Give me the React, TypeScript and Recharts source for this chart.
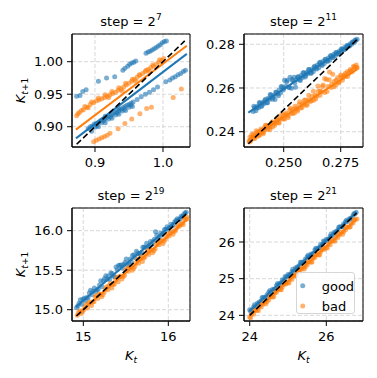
import React from 'react';
import { ScatterChart, Scatter, XAxis, YAxis, CartesianGrid, ReferenceArea, Legend } from 'recharts';

const W = 377;
const H = 378;
const BLUE = '#1f77b4';
const ORANGE = '#ff7f0e';
const FONT = '"DejaVu Sans", sans-serif';

type Pt = [number, number];

// ---------- panel 1: step = 2^7 ----------
const good1: Pt[] = [
  [0.873, 0.947], [0.878, 0.948], [0.882, 0.954], [0.887, 0.957], [0.905, 0.970], [0.917, 0.975],
  [0.929, 0.977], [0.941, 0.987], [0.944, 0.990], [0.948, 0.993], [0.951, 0.996], [0.954, 0.998],
  [0.957, 0.999], [0.960, 1.001], [0.975, 1.013], [0.978, 1.015], [0.981, 1.016], [0.984, 1.018],
  [0.987, 1.020], [0.990, 1.022], [0.993, 1.024], [0.996, 1.026], [0.999, 1.029], [1.002, 1.031],
  [1.005, 1.032],
  [0.890, 0.897], [0.893, 0.900], [0.896, 0.901], [0.899, 0.904], [0.902, 0.905], [0.905, 0.907],
  [0.908, 0.909], [0.911, 0.911], [0.914, 0.912], [0.917, 0.914], [0.920, 0.916], [0.923, 0.918],
  [0.926, 0.920], [0.929, 0.922], [0.932, 0.923], [0.935, 0.925], [0.938, 0.927], [0.941, 0.929],
  [0.944, 0.931], [0.947, 0.933], [0.950, 0.934], [0.953, 0.936], [0.956, 0.938], [0.962, 0.942],
  [0.968, 0.946], [0.974, 0.950], [0.980, 0.953], [0.986, 0.957], [0.992, 0.961], [1.004, 0.969],
  [1.010, 0.972], [1.014, 0.975], [1.018, 0.977], [1.022, 0.980], [1.026, 0.982], [1.030, 0.985],
  [1.033, 0.987],
  [0.900, 0.899], [0.910, 0.906], [0.920, 0.912], [0.930, 0.918], [0.940, 0.924], [0.950, 0.930],
  [0.915, 0.916], [0.935, 0.928],
  [0.895, 0.893], [0.905, 0.900], [0.915, 0.906], [0.925, 0.913], [0.935, 0.919], [0.945, 0.925],
  [0.955, 0.931], [0.903, 0.902], [0.913, 0.909], [0.923, 0.915], [0.933, 0.921], [0.943, 0.927],
  [0.953, 0.933],
];
const bad1: Pt[] = [
  [0.873, 0.917], [0.875, 0.920], [0.877, 0.922], [0.880, 0.925], [0.883, 0.926], [0.888, 0.930],
  [0.893, 0.934], [0.898, 0.937], [0.902, 0.940], [0.906, 0.941], [0.910, 0.943], [0.914, 0.945],
  [0.918, 0.947], [0.922, 0.949], [0.926, 0.951], [0.930, 0.953], [0.934, 0.956], [0.938, 0.958],
  [0.942, 0.961], [0.946, 0.964], [0.950, 0.967], [0.954, 0.970], [0.958, 0.973], [0.962, 0.976],
  [0.966, 0.979], [0.970, 0.982], [0.974, 0.985], [0.978, 0.988], [0.982, 0.991], [0.986, 0.993],
  [0.990, 0.996], [0.994, 0.999], [0.998, 1.002], [1.001, 1.005],
  [0.885, 0.931], [0.895, 0.938], [0.905, 0.944], [0.915, 0.949], [0.925, 0.954], [0.935, 0.960],
  [0.945, 0.967], [0.955, 0.973], [0.965, 0.980], [0.975, 0.987], [0.985, 0.995], [0.995, 1.003],
  [0.890, 0.929], [0.920, 0.945], [0.940, 0.955], [0.960, 0.970], [0.980, 0.985],
  [0.898, 0.877], [0.902, 0.879], [0.906, 0.881], [0.910, 0.883], [0.914, 0.885], [0.918, 0.887],
  [0.922, 0.890], [0.934, 0.897], [0.944, 0.905], [0.954, 0.912], [0.966, 0.920], [0.976, 0.928],
  [0.983, 0.930], [1.015, 0.945], [1.027, 0.958],
];
const goodFit1: Pt[] = [[0.872, 0.882], [1.035, 1.012]];
const badFit1: Pt[] = [[0.872, 0.8955], [1.035, 1.0245]];
const diag1: Pt[] = [[0.873, 0.873], [1.032, 1.032]];

// ---------- panel 2: step = 2^11 ----------
const good2: Pt[] = [
  [0.2366, 0.2492], [0.2372, 0.2510], [0.2378, 0.2496], [0.2384, 0.2516], [0.2390, 0.2510], [0.2396, 0.2531],
  [0.2402, 0.2515], [0.2408, 0.2534], [0.2414, 0.2529], [0.2420, 0.2549], [0.2426, 0.2533], [0.2432, 0.2553],
  [0.2438, 0.2548], [0.2444, 0.2568], [0.2450, 0.2548], [0.2456, 0.2566], [0.2462, 0.2547], [0.2468, 0.2581],
  [0.2474, 0.2572], [0.2480, 0.2591], [0.2486, 0.2577], [0.2492, 0.2605], [0.2498, 0.2591], [0.2504, 0.2636],
  [0.2510, 0.2608], [0.2516, 0.2636], [0.2522, 0.2603], [0.2528, 0.2649], [0.2534, 0.2599], [0.2540, 0.2633],
  [0.2546, 0.2649], [0.2552, 0.2603], [0.2558, 0.2640], [0.2564, 0.2652], [0.2570, 0.2638], [0.2576, 0.2657],
  [0.2582, 0.2648], [0.2588, 0.2670], [0.2594, 0.2650], [0.2600, 0.2671], [0.2606, 0.2666], [0.2612, 0.2685],
  [0.2618, 0.2669], [0.2624, 0.2685], [0.2630, 0.2675], [0.2636, 0.2700], [0.2642, 0.2692], [0.2648, 0.2705],
  [0.2654, 0.2693], [0.2660, 0.2718], [0.2666, 0.2707], [0.2672, 0.2721], [0.2678, 0.2712], [0.2684, 0.2732],
  [0.2690, 0.2724], [0.2696, 0.2737], [0.2702, 0.2728], [0.2708, 0.2748], [0.2714, 0.2740], [0.2720, 0.2754],
  [0.2726, 0.2747], [0.2732, 0.2762], [0.2738, 0.2756], [0.2744, 0.2769], [0.2750, 0.2765], [0.2756, 0.2779],
  [0.2762, 0.2775], [0.2768, 0.2786], [0.2774, 0.2782], [0.2780, 0.2793], [0.2786, 0.2791], [0.2792, 0.2803],
  [0.2798, 0.2800], [0.2804, 0.2810], [0.2810, 0.2809], [0.2816, 0.2818], [0.2822, 0.2823],
  [0.2369, 0.2516], [0.2381, 0.2508], [0.2393, 0.2534], [0.2405, 0.2520], [0.2417, 0.2543], [0.2429, 0.2533],
  [0.2441, 0.2570], [0.2453, 0.2556], [0.2465, 0.2581], [0.2477, 0.2564], [0.2489, 0.2607], [0.2501, 0.2600],
  [0.2513, 0.2629], [0.2525, 0.2602], [0.2537, 0.2639], [0.2549, 0.2624], [0.2561, 0.2650], [0.2573, 0.2634],
  [0.2585, 0.2670], [0.2597, 0.2657], [0.2609, 0.2685], [0.2621, 0.2667], [0.2633, 0.2696], [0.2645, 0.2687],
  [0.2657, 0.2716], [0.2669, 0.2703], [0.2681, 0.2730], [0.2693, 0.2722], [0.2705, 0.2748], [0.2717, 0.2740],
  [0.2729, 0.2762], [0.2741, 0.2757], [0.2753, 0.2779], [0.2765, 0.2775], [0.2777, 0.2794], [0.2789, 0.2793],
  [0.2801, 0.2810], [0.2813, 0.2820],
];
const bad2: Pt[] = [
  [0.2348, 0.2358], [0.2352, 0.2375], [0.2356, 0.2359], [0.2360, 0.2376], [0.2364, 0.2372], [0.2368, 0.2390],
  [0.2372, 0.2368], [0.2376, 0.2385], [0.2380, 0.2378], [0.2384, 0.2398], [0.2388, 0.2387], [0.2392, 0.2400],
  [0.2396, 0.2386], [0.2400, 0.2412], [0.2404, 0.2397], [0.2408, 0.2408], [0.2412, 0.2398], [0.2416, 0.2419],
  [0.2420, 0.2411], [0.2425, 0.2430], [0.2430, 0.2410], [0.2435, 0.2428], [0.2440, 0.2420], [0.2446, 0.2440],
  [0.2452, 0.2423], [0.2458, 0.2442], [0.2464, 0.2439], [0.2470, 0.2462], [0.2477, 0.2442], [0.2484, 0.2462],
  [0.2491, 0.2458], [0.2498, 0.2478], [0.2505, 0.2458], [0.2512, 0.2479], [0.2519, 0.2473], [0.2526, 0.2499],
  [0.2533, 0.2485], [0.2540, 0.2502], [0.2547, 0.2486], [0.2554, 0.2506], [0.2561, 0.2502], [0.2568, 0.2524],
  [0.2575, 0.2509], [0.2582, 0.2528], [0.2589, 0.2525], [0.2596, 0.2545], [0.2603, 0.2526], [0.2610, 0.2546],
  [0.2617, 0.2539], [0.2624, 0.2561], [0.2631, 0.2544], [0.2638, 0.2567], [0.2645, 0.2562], [0.2652, 0.2585],
  [0.2659, 0.2567], [0.2666, 0.2583], [0.2673, 0.2614], [0.2680, 0.2579], [0.2687, 0.2639], [0.2694, 0.2607],
  [0.2701, 0.2673], [0.2708, 0.2602], [0.2715, 0.2663], [0.2722, 0.2630], [0.2729, 0.2614], [0.2736, 0.2647],
  [0.2743, 0.2628], [0.2750, 0.2652], [0.2757, 0.2635], [0.2764, 0.2658], [0.2771, 0.2654], [0.2778, 0.2674],
  [0.2785, 0.2666], [0.2792, 0.2685], [0.2799, 0.2680], [0.2806, 0.2700], [0.2812, 0.2694], [0.2818, 0.2705],
  [0.2822, 0.2693],
  [0.2350, 0.2353], [0.2360, 0.2387], [0.2370, 0.2373], [0.2380, 0.2404], [0.2390, 0.2380], [0.2400, 0.2405],
  [0.2410, 0.2391], [0.2420, 0.2429], [0.2430, 0.2424], [0.2440, 0.2410], [0.2450, 0.2445], [0.2460, 0.2430],
  [0.2470, 0.2452], [0.2480, 0.2440], [0.2490, 0.2478], [0.2500, 0.2459], [0.2510, 0.2486], [0.2520, 0.2465],
  [0.2530, 0.2507], [0.2540, 0.2483], [0.2550, 0.2516], [0.2560, 0.2494], [0.2570, 0.2537], [0.2580, 0.2511],
  [0.2590, 0.2544], [0.2600, 0.2520], [0.2610, 0.2567], [0.2620, 0.2540], [0.2630, 0.2585], [0.2640, 0.2550],
  [0.2650, 0.2609], [0.2660, 0.2586], [0.2670, 0.2607], [0.2680, 0.2644], [0.2690, 0.2584], [0.2700, 0.2638],
  [0.2710, 0.2618], [0.2720, 0.2606], [0.2730, 0.2635], [0.2740, 0.2624], [0.2750, 0.2659], [0.2760, 0.2648],
  [0.2770, 0.2666], [0.2780, 0.2653], [0.2790, 0.2678], [0.2800, 0.2674], [0.2810, 0.2696], [0.2820, 0.2694],
];
const goodFit2: Pt[] = [[0.2345, 0.2487], [0.2823, 0.2820]];
const badFit2: Pt[] = [[0.2345, 0.2362], [0.2823, 0.2686]];
const diag2: Pt[] = [[0.2345, 0.2345], [0.2823, 0.2823]];

// ---------- panel 3: step = 2^19 ----------
const good3: Pt[] = [
  [14.92, 15.024], [14.95, 15.081], [14.98, 15.069], [15.01, 15.146], [15.04, 15.154], [15.07, 15.211],
  [15.10, 15.189], [15.13, 15.276], [15.16, 15.254], [15.19, 15.311], [15.22, 15.289], [15.25, 15.396],
  [15.28, 15.384], [15.31, 15.382], [15.34, 15.459], [15.37, 15.417], [15.40, 15.504], [15.43, 15.562],
  [15.46, 15.529], [15.49, 15.597], [15.52, 15.564], [15.55, 15.642], [15.58, 15.689], [15.61, 15.657],
  [15.64, 15.714], [15.67, 15.702], [15.70, 15.790], [15.73, 15.787], [15.76, 15.795], [15.79, 15.862],
  [15.82, 15.860], [15.85, 15.987], [15.88, 15.895], [15.91, 15.972], [15.94, 15.970], [15.97, 16.017],
  [16.00, 16.015], [16.03, 16.082], [16.06, 16.080], [16.09, 16.128], [16.12, 16.135], [16.15, 16.183],
  [16.18, 16.200], [16.21, 16.233],
  [14.935, 15.047], [14.995, 15.132], [15.055, 15.147], [15.115, 15.233], [15.175, 15.258], [15.235, 15.363],
  [15.295, 15.428], [15.355, 15.423], [15.415, 15.558], [15.475, 15.573], [15.535, 15.588], [15.595, 15.693],
  [15.655, 15.708], [15.715, 15.793], [15.775, 15.808], [15.835, 15.893], [15.895, 15.919], [15.955, 16.014],
  [16.015, 16.039], [16.075, 16.114], [16.135, 16.149], [16.195, 16.224],
  [14.965, 15.125], [15.025, 15.110], [15.085, 15.245], [15.145, 15.230], [15.205, 15.365], [15.265, 15.430],
  [15.325, 15.465], [15.385, 15.540], [15.445, 15.565], [15.505, 15.641], [15.565, 15.606], [15.625, 15.741],
  [15.685, 15.726], [15.745, 15.841], [15.805, 15.826], [15.865, 15.941], [15.925, 15.946], [15.985, 16.051],
  [16.045, 16.056], [16.105, 16.151], [16.165, 16.176],
];
const bad3: Pt[] = [
  [14.93, 14.929], [14.96, 14.987], [14.99, 14.975], [15.02, 15.033], [15.05, 15.020], [15.08, 15.098],
  [15.11, 15.096], [15.14, 15.164], [15.17, 15.142], [15.20, 15.200], [15.23, 15.188], [15.26, 15.266],
  [15.29, 15.254], [15.32, 15.332], [15.35, 15.319], [15.38, 15.377], [15.41, 15.355], [15.44, 15.423],
  [15.47, 15.421], [15.50, 15.499], [15.53, 15.487], [15.56, 15.545], [15.59, 15.523], [15.62, 15.591],
  [15.65, 15.588], [15.68, 15.666], [15.71, 15.654], [15.74, 15.712], [15.77, 15.700], [15.80, 15.758],
  [15.83, 15.746], [15.86, 15.824], [15.89, 15.822], [15.92, 15.880], [15.95, 15.867], [15.98, 15.925],
  [16.01, 15.933], [16.04, 15.991], [16.07, 15.989], [16.10, 16.037], [16.13, 16.055], [16.16, 16.093],
  [16.19, 16.141], [16.22, 16.149],
  [14.945, 14.963], [15.005, 14.999], [15.065, 15.084], [15.125, 15.100], [15.185, 15.196], [15.245, 15.222],
  [15.305, 15.308], [15.365, 15.323], [15.425, 15.419], [15.485, 15.435], [15.545, 15.531], [15.605, 15.547],
  [15.665, 15.642], [15.725, 15.668], [15.785, 15.754], [15.845, 15.770], [15.905, 15.866], [15.965, 15.891],
  [16.025, 15.967], [16.085, 16.003], [16.145, 16.079], [16.205, 16.145],
  [14.975, 14.951], [15.035, 15.067], [15.095, 15.052], [15.155, 15.178], [15.215, 15.164], [15.275, 15.290],
  [15.335, 15.276], [15.395, 15.411], [15.455, 15.387], [15.515, 15.523], [15.575, 15.499], [15.635, 15.635],
  [15.695, 15.610], [15.755, 15.746], [15.815, 15.722], [15.875, 15.848], [15.935, 15.834], [15.995, 15.959],
  [16.055, 15.955], [16.115, 16.061], [16.175, 16.077], [16.215, 16.174],
];
const goodFit3: Pt[] = [[14.914, 15.038], [16.216, 16.233]];
const badFit3: Pt[] = [[14.914, 14.924], [16.216, 16.135]];
const diag3: Pt[] = [[14.92, 14.92], [16.21, 16.21]];

// ---------- panel 4: step = 2^21 ----------
const good4: Pt[] = [
  [24.00, 24.149], [24.05, 24.148], [24.10, 24.226], [24.15, 24.234], [24.20, 24.332], [24.25, 24.361],
  [24.30, 24.399], [24.35, 24.487], [24.40, 24.485], [24.45, 24.563], [24.50, 24.631], [24.55, 24.630],
  [24.60, 24.708], [24.65, 24.716], [24.70, 24.814], [24.75, 24.843], [24.80, 24.881], [24.85, 24.969],
  [24.90, 24.967], [24.95, 25.045], [25.00, 25.114], [25.05, 25.112], [25.10, 25.190], [25.15, 25.198],
  [25.20, 25.297], [25.25, 25.325], [25.30, 25.363], [25.35, 25.451], [25.40, 25.449], [25.45, 25.528],
  [25.50, 25.596], [25.55, 25.594], [25.60, 25.672], [25.65, 25.681], [25.70, 25.779], [25.75, 25.807],
  [25.80, 25.845], [25.85, 25.933], [25.90, 25.932], [25.95, 26.010], [26.00, 26.078], [26.05, 26.076],
  [26.10, 26.155], [26.15, 26.163], [26.20, 26.261], [26.25, 26.289], [26.30, 26.327], [26.35, 26.416],
  [26.40, 26.414], [26.45, 26.492], [26.50, 26.550], [26.55, 26.559], [26.60, 26.637], [26.65, 26.655],
  [26.70, 26.733], [26.75, 26.771], [26.78, 26.810],
  [24.025, 24.103], [24.125, 24.290], [24.225, 24.296], [24.325, 24.483], [24.425, 24.489], [24.525, 24.676],
  [24.625, 24.682], [24.725, 24.869], [24.825, 24.875], [24.925, 25.061], [25.025, 25.068], [25.125, 25.254],
  [25.225, 25.261], [25.325, 25.447], [25.425, 25.454], [25.525, 25.640], [25.625, 25.646], [25.725, 25.833],
  [25.825, 25.839], [25.925, 26.026], [26.025, 26.032], [26.125, 26.219], [26.225, 26.225], [26.325, 26.401],
  [26.425, 26.418], [26.525, 26.594], [26.625, 26.621], [26.725, 26.777],
];
const bad4: Pt[] = [
  [24.00, 23.952], [24.05, 24.040], [24.10, 24.027], [24.15, 24.125], [24.20, 24.152], [24.25, 24.240],
  [24.30, 24.227], [24.35, 24.305], [24.40, 24.372], [24.45, 24.379], [24.50, 24.427], [24.55, 24.514],
  [24.60, 24.502], [24.65, 24.599], [24.70, 24.627], [24.75, 24.714], [24.80, 24.702], [24.85, 24.779],
  [24.90, 24.847], [24.95, 24.854], [25.00, 24.901], [25.05, 24.989], [25.10, 24.976], [25.15, 25.074],
  [25.20, 25.101], [25.25, 25.189], [25.30, 25.176], [25.35, 25.254], [25.40, 25.321], [25.45, 25.328],
  [25.50, 25.376], [25.55, 25.463], [25.60, 25.451], [25.65, 25.548], [25.70, 25.576], [25.75, 25.663],
  [25.80, 25.651], [25.85, 25.728], [25.90, 25.796], [25.95, 25.803], [26.00, 25.850], [26.05, 25.938],
  [26.10, 25.925], [26.15, 26.023], [26.20, 26.050], [26.25, 26.138], [26.30, 26.125], [26.35, 26.203],
  [26.40, 26.270], [26.45, 26.277], [26.50, 26.325], [26.55, 26.412], [26.60, 26.400], [26.65, 26.497],
  [26.70, 26.525], [26.75, 26.612], [26.80, 26.630],
  [24.025, 23.936], [24.125, 24.131], [24.225, 24.126], [24.325, 24.321], [24.425, 24.316], [24.525, 24.511],
  [24.625, 24.506], [24.725, 24.700], [24.825, 24.695], [24.925, 24.890], [25.025, 24.885], [25.125, 25.080],
  [25.225, 25.075], [25.325, 25.270], [25.425, 25.265], [25.525, 25.460], [25.625, 25.455], [25.725, 25.649],
  [25.825, 25.644], [25.925, 25.839], [26.025, 25.834], [26.125, 26.029], [26.225, 26.024], [26.325, 26.219],
  [26.425, 26.214], [26.525, 26.409], [26.625, 26.414], [26.725, 26.598],
];
const goodFit4: Pt[] = [[24.008, 24.127], [26.79, 26.81]];
const badFit4: Pt[] = [[24.008, 23.99], [26.79, 26.63]];
const diag4: Pt[] = [[24.0, 24.0], [26.79, 26.79]];

// ---------- titles / legend ----------
const stepExponents = ['7', '11', '19', '21'];
const seriesNames = ['good', 'bad'];

const toObj = (a: Pt[]) => a.map(([x, y]) => ({ x, y }));

const makeDot = (color: string) => (props: any) =>
  props.cx == null ? <g /> : <circle cx={props.cx} cy={props.cy} r={2.5} fill={color} fillOpacity={0.6} />;
const NoShape = () => <g />;

const tickStyle = { fill: '#000', fontSize: 13, fontFamily: FONT };

type PanelProps = {
  box: [number, number, number, number];
  xDomain: [number, number];
  yDomain: [number, number];
  xTicks: number[];
  yTicks: number[];
  xDigits: number;
  yDigits: number;
  good: Pt[];
  bad: Pt[];
  goodFit: Pt[];
  badFit: Pt[];
  diag: Pt[];
  legend?: boolean;
};

function LegendBox() {
  return (
    <div
      style={{
        width: 59,
        height: 42,
        boxSizing: 'border-box',
        border: '1px solid #d6d6d6',
        borderRadius: 3,
        background: 'rgba(255,255,255,0.8)',
      }}
    >
      <svg width={57} height={40} style={{ display: 'block' }}>
        <circle cx={5.7} cy={12.7} r={2.5} fill={BLUE} fillOpacity={0.6} />
        <text x={24.7} y={17.5} fontSize={13} fontFamily={FONT} fill="#000">{seriesNames[0]}</text>
        <circle cx={5.7} cy={33} r={2.5} fill={ORANGE} fillOpacity={0.6} />
        <text x={24.7} y={37.5} fontSize={13} fontFamily={FONT} fill="#000">{seriesNames[1]}</text>
      </svg>
    </div>
  );
}

function Panel(p: PanelProps) {
  const [l, t, r, b] = p.box;
  const YW = 40;
  const XH = 30;
  const margin = { top: t, left: l - YW, right: W - r, bottom: H - b - XH };
  return (
    <div style={{ position: 'absolute', left: 0, top: 0 }}>
      <ScatterChart width={W} height={H} margin={margin}>
        <CartesianGrid stroke="#d4d4d4" strokeDasharray="4 2" strokeWidth={0.9} />
        <XAxis
          type="number"
          dataKey="x"
          domain={p.xDomain}
          allowDataOverflow
          ticks={p.xTicks}
          interval={0}
          tickFormatter={(v: number) => v.toFixed(p.xDigits)}
          tickSize={5}
          tickMargin={6}
          height={XH}
          stroke="#000"
          tick={tickStyle}
        />
        <YAxis
          type="number"
          dataKey="y"
          domain={p.yDomain}
          allowDataOverflow
          ticks={p.yTicks}
          interval={0}
          tickFormatter={(v: number) => v.toFixed(p.yDigits)}
          tickSize={5}
          tickMargin={4}
          width={YW}
          stroke="#000"
          tick={tickStyle}
        />
        <Scatter data={toObj(p.good)} shape={makeDot(BLUE)} isAnimationActive={false} />
        <Scatter data={toObj(p.bad)} shape={makeDot(ORANGE)} isAnimationActive={false} />
        <Scatter
          data={toObj(p.goodFit)}
          shape={NoShape}
          line={{ stroke: BLUE, strokeWidth: 2 }}
          lineType="joint"
          isAnimationActive={false}
        />
        <Scatter
          data={toObj(p.badFit)}
          shape={NoShape}
          line={{ stroke: ORANGE, strokeWidth: 2 }}
          lineType="joint"
          isAnimationActive={false}
        />
        <Scatter
          data={toObj(p.diag)}
          shape={NoShape}
          line={{ stroke: '#000', strokeWidth: 1.6, strokeDasharray: '6 3' }}
          lineType="joint"
          isAnimationActive={false}
        />
        <ReferenceArea
          x1={p.xDomain[0]}
          x2={p.xDomain[1]}
          y1={p.yDomain[0]}
          y2={p.yDomain[1]}
          fill="none"
          fillOpacity={0}
          stroke="#000"
          strokeWidth={1}
          ifOverflow="visible"
        />
        {p.legend ? (
          <Legend
            layout="horizontal"
            verticalAlign="middle"
            align="center"
            wrapperStyle={{ left: 296, top: 272, width: 59, height: 42 }}
            content={() => <LegendBox />}
          />
        ) : null}
      </ScatterChart>
    </div>
  );
}

function Title({ x, y, exp }: { x: number; y: number; exp: string }) {
  return (
    <text x={x} y={y} textAnchor="middle" fontSize={13} fontFamily={FONT} fill="#000">
      step = 2<tspan fontSize={9} dy={-6}>{exp}</tspan>
    </text>
  );
}

function YLabel({ x, y }: { x: number; y: number }) {
  return (
    <text transform={`translate(${x} ${y}) rotate(-90)`} textAnchor="middle" fontSize={13} fontFamily={FONT} fill="#000">
      <tspan fontStyle="italic">K</tspan>
      <tspan fontSize={9} dy={3} fontStyle="italic">t</tspan>
      <tspan fontSize={9}>+1</tspan>
    </text>
  );
}

function XLabel({ x, y }: { x: number; y: number }) {
  return (
    <text x={x} y={y} textAnchor="middle" fontSize={13} fontFamily={FONT} fill="#000">
      <tspan fontStyle="italic">K</tspan>
      <tspan fontSize={9} dy={3} fontStyle="italic">t</tspan>
    </text>
  );
}

export default function App() {
  return (
    <div style={{ position: 'absolute', left: 0, top: 0, width: W, height: H, background: '#fff', overflow: 'hidden' }}>
      <Panel
        box={[72, 34, 190, 147]}
        xDomain={[0.8662, 1.0397]}
        yDomain={[0.8688, 1.0426]}
        xTicks={[0.9, 1.0]}
        yTicks={[0.9, 0.95, 1.0]}
        xDigits={1}
        yDigits={2}
        good={good1}
        bad={bad1}
        goodFit={goodFit1}
        badFit={badFit1}
        diag={diag1}
      />
      <Panel
        box={[244, 34, 363, 147]}
        xDomain={[0.23259, 0.28478]}
        yDomain={[0.233, 0.28471]}
        xTicks={[0.25, 0.275]}
        yTicks={[0.24, 0.26, 0.28]}
        xDigits={3}
        yDigits={2}
        good={good2}
        bad={bad2}
        goodFit={goodFit2}
        badFit={badFit2}
        diag={diag2}
      />
      <Panel
        box={[72, 208, 190, 321]}
        xDomain={[14.867, 16.255]}
        yDomain={[14.857, 16.287]}
        xTicks={[15, 16]}
        yTicks={[15, 15.5, 16]}
        xDigits={0}
        yDigits={1}
        good={good3}
        bad={bad3}
        goodFit={goodFit3}
        badFit={badFit3}
        diag={diag3}
      />
      <Panel
        box={[244, 208, 363, 321]}
        xDomain={[23.851, 26.958]}
        yDomain={[23.845, 26.928]}
        xTicks={[24, 26]}
        yTicks={[24, 25, 26]}
        xDigits={0}
        yDigits={0}
        good={good4}
        bad={bad4}
        goodFit={goodFit4}
        badFit={badFit4}
        diag={diag4}
        legend
      />
      <svg width={W} height={H} style={{ position: 'absolute', left: 0, top: 0, pointerEvents: 'none' }}>
        <Title x={131} y={26} exp={stepExponents[0]} />
        <Title x={303.5} y={26} exp={stepExponents[1]} />
        <Title x={131} y={200} exp={stepExponents[2]} />
        <Title x={303.5} y={200} exp={stepExponents[3]} />
        <YLabel x={25} y={90.5} />
        <YLabel x={25} y={264.5} />
        <XLabel x={131} y={360} />
        <XLabel x={303.5} y={360} />
      </svg>
    </div>
  );
}
